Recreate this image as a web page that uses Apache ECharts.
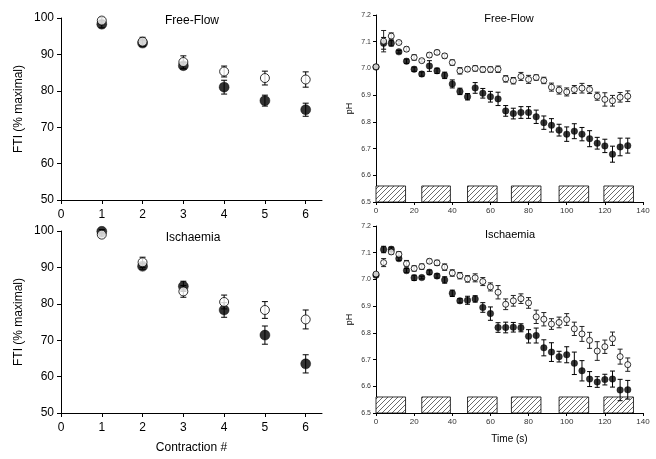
<!DOCTYPE html>
<html>
<head>
<meta charset="utf-8">
<script src="https://cdn.jsdelivr.net/npm/echarts@6/dist/echarts.min.js"></script>
<style>html,body{margin:0;padding:0;background:#fff}#c{width:656px;height:459px}</style>
</head>
<body>
<div id="c"></div>
<script>
// ---------- DATA ----------
const contractions = [1, 2, 3, 4, 5, 6];
const ffFtiFilled    = [98.3, 93.1, 86.9, 81.0, 77.3, 74.8];
const ffFtiFilledErr = [1.0, 0.8, 0.9, 1.9, 1.5, 1.8];
const ffFtiOpen      = [99.3, 93.5, 87.9, 85.3, 83.5, 83.1];
const ffFtiOpenErr   = [0.8, 1.2, 1.7, 1.5, 1.9, 2.1];
const isFtiFilled    = [99.9, 90.3, 84.8, 78.3, 71.4, 63.5];
const isFtiFilledErr = [0.5, 0.8, 1.4, 2.0, 2.5, 2.5];
const isFtiOpen      = [99.0, 91.4, 83.4, 80.5, 78.3, 75.7];
const isFtiOpenErr   = [0.6, 1.4, 1.6, 1.9, 2.3, 2.6];

const times = [0, 4, 8, 12, 16, 20, 24, 28, 32, 36, 40, 44, 48, 52, 56, 60, 64, 68, 72, 76, 80, 84, 88, 92, 96, 100, 104, 108, 112, 116, 120, 124, 128, 132];
const ffPhFilled    = [7.005, 7.094, 7.094, 7.062, 7.027, 6.997, 6.979, 7.009, 6.991, 6.974, 6.942, 6.914, 6.894, 6.927, 6.907, 6.894, 6.886, 6.841, 6.831, 6.835, 6.835, 6.819, 6.797, 6.787, 6.769, 6.754, 6.765, 6.754, 6.737, 6.720, 6.710, 6.679, 6.706, 6.711];
const ffPhFilledErr = [0.004, 0.022, 0.01, 0.005, 0.008, 0.008, 0.008, 0.02, 0.01, 0.012, 0.015, 0.012, 0.012, 0.02, 0.018, 0.02, 0.025, 0.02, 0.02, 0.022, 0.022, 0.025, 0.025, 0.025, 0.022, 0.027, 0.028, 0.025, 0.03, 0.022, 0.025, 0.03, 0.033, 0.028];
const ffPhOpen      = [7.006, 7.102, 7.121, 7.097, 7.072, 7.041, 7.029, 7.050, 7.060, 7.047, 7.022, 6.991, 6.997, 7.000, 6.996, 6.996, 6.997, 6.961, 6.954, 6.970, 6.959, 6.966, 6.955, 6.930, 6.919, 6.912, 6.921, 6.926, 6.921, 6.896, 6.884, 6.879, 6.892, 6.896];
const ffPhOpenErr   = [0.004, 0.04, 0.012, 0.005, 0.008, 0.01, 0.005, 0.008, 0.008, 0.008, 0.01, 0.012, 0.008, 0.01, 0.01, 0.01, 0.012, 0.012, 0.012, 0.015, 0.015, 0.01, 0.012, 0.015, 0.015, 0.015, 0.015, 0.018, 0.015, 0.015, 0.025, 0.02, 0.018, 0.02];
const isPhFilled    = [7.016, 7.112, 7.113, 7.078, 7.033, 7.006, 7.007, 7.027, 7.013, 6.998, 6.948, 6.920, 6.922, 6.927, 6.895, 6.872, 6.820, 6.820, 6.821, 6.819, 6.787, 6.790, 6.744, 6.728, 6.711, 6.718, 6.686, 6.658, 6.627, 6.616, 6.625, 6.627, 6.586, 6.587];
const isPhFilledErr = [0.005, 0.012, 0.008, 0.008, 0.008, 0.01, 0.005, 0.008, 0.008, 0.012, 0.012, 0.008, 0.015, 0.012, 0.018, 0.025, 0.018, 0.02, 0.018, 0.015, 0.025, 0.028, 0.03, 0.035, 0.02, 0.03, 0.042, 0.038, 0.028, 0.02, 0.02, 0.03, 0.04, 0.035];
const isPhOpen      = [7.020, 7.063, 7.103, 7.094, 7.059, 7.041, 7.048, 7.068, 7.062, 7.046, 7.024, 7.014, 7.002, 7.006, 6.992, 6.972, 6.952, 6.907, 6.920, 6.928, 6.912, 6.860, 6.851, 6.833, 6.839, 6.850, 6.815, 6.796, 6.772, 6.732, 6.748, 6.778, 6.711, 6.681];
const isPhOpenErr   = [0.005, 0.015, 0.008, 0.01, 0.012, 0.01, 0.01, 0.008, 0.01, 0.012, 0.012, 0.012, 0.012, 0.015, 0.015, 0.015, 0.025, 0.02, 0.02, 0.018, 0.02, 0.025, 0.025, 0.02, 0.02, 0.022, 0.025, 0.028, 0.03, 0.035, 0.025, 0.025, 0.028, 0.025];

const barStarts = [0, 24, 48, 71, 96, 119.5];
const barEnds   = [15.5, 39, 63.5, 86.5, 111.5, 135];
const barTop = 6.56;
const barBase = 6.5;

const ftiTicks = [50, 60, 70, 80, 90, 100];
const contractionTicks = [0, 1, 2, 3, 4, 5, 6];

// ---------- HELPERS ----------
const FONT = 'Liberation Sans, Arial, sans-serif';

function hatchPattern() {
  const c = document.createElement('canvas');
  c.width = 5; c.height = 5;
  const g = c.getContext('2d');
  g.fillStyle = '#fff'; g.fillRect(0, 0, 5, 5);
  g.strokeStyle = '#444'; g.lineWidth = 0.8;
  g.beginPath();
  g.moveTo(-1, 6); g.lineTo(6, -1);
  g.moveTo(-1, 1); g.lineTo(1, -1);
  g.moveTo(4, 6); g.lineTo(6, 4);
  g.stroke();
  return c;
}
const pattern = hatchPattern();

function zip3(x, y, e) { return x.map((v, i) => [v, y[i], e[i]]); }
function zip2(x, y) { return x.map((v, i) => [v, y[i]]); }

function errSeries(idx, x, y, e, cap, color) {
  return {
    type: 'custom', xAxisIndex: idx, yAxisIndex: idx, z: 2, silent: true,
    data: zip3(x, y, e),
    renderItem: function (params, api) {
      const xv = api.value(0), yv = api.value(1), ev = api.value(2);
      const top = api.coord([xv, yv + ev]);
      const bot = api.coord([xv, yv - ev]);
      const st = { stroke: color, lineWidth: 1 };
      return {
        type: 'group', children: [
          { type: 'line', shape: { x1: top[0], y1: top[1], x2: bot[0], y2: bot[1] }, style: st },
          { type: 'line', shape: { x1: top[0] - cap, y1: top[1], x2: top[0] + cap, y2: top[1] }, style: st },
          { type: 'line', shape: { x1: bot[0] - cap, y1: bot[1], x2: bot[0] + cap, y2: bot[1] }, style: st }
        ]
      };
    }
  };
}

function scatter(idx, x, y, filled, size) {
  return {
    type: 'scatter', xAxisIndex: idx, yAxisIndex: idx, z: filled ? 3 : 4,
    symbol: 'circle', symbolSize: size,
    data: zip2(x, y),
    itemStyle: filled ? { color: '#000', borderColor: '#000', borderWidth: 0.5 }
                      : { color: '#fff', borderColor: '#000', borderWidth: 1 },
    emphasis: { disabled: true }
  };
}

function barsSeries(idx) {
  return {
    type: 'custom', xAxisIndex: idx, yAxisIndex: idx, z: 1, silent: true,
    data: barStarts.map((s, i) => [s, barEnds[i]]),
    renderItem: function (params, api) {
      const p0 = api.coord([api.value(0), barTop]);
      const p1 = api.coord([api.value(1), barBase]);
      return {
        type: 'rect',
        shape: { x: p0[0], y: p0[1], width: p1[0] - p0[0], height: p1[1] - p0[1] },
        style: { fill: { image: pattern, repeat: 'repeat' }, stroke: '#000', lineWidth: 0.8 }
      };
    }
  };
}

const axisLine = { show: true, lineStyle: { color: '#000', width: 1 } };

function leftX(idx, showName) {
  return {
    type: 'value', gridIndex: idx, min: 0, max: 6.4, interval: 1,
    axisLine: axisLine,
    axisTick: { show: true, length: 4, lineStyle: { color: '#000' }, customValues: contractionTicks },
    axisLabel: { color: '#000', fontSize: 12, fontFamily: FONT, margin: 9, customValues: contractionTicks,
      formatter: v => (Number.isInteger(v) ? String(v) : '') },
    splitLine: { show: false },
    name: showName ? 'Contraction #' : '', nameLocation: 'middle', nameGap: 29,
    nameTextStyle: { color: '#000', fontSize: 12, fontFamily: FONT }
  };
}
function leftY(idx) {
  return {
    type: 'value', gridIndex: idx, min: 50, max: 100, interval: 10,
    axisLine: axisLine,
    axisTick: { show: true, length: 4, lineStyle: { color: '#000' } },
    axisLabel: { color: '#000', fontSize: 12, fontFamily: FONT, margin: 7 },
    splitLine: { show: false },
    name: 'FTI (% maximal)', nameLocation: 'middle', nameGap: 36, nameRotate: 90,
    nameTextStyle: { color: '#000', fontSize: 12, fontFamily: FONT }
  };
}
function rightX(idx, showName) {
  return {
    type: 'value', gridIndex: idx, min: 0, max: 140, interval: 20,
    axisLine: axisLine,
    axisTick: { show: true, length: 3, lineStyle: { color: '#000' } },
    axisLabel: { color: '#333', fontSize: 8, fontFamily: FONT, margin: 5 },
    splitLine: { show: false },
    name: showName ? 'Time (s)' : '', nameLocation: 'middle', nameGap: 21,
    nameTextStyle: { color: '#000', fontSize: 10, fontFamily: FONT }
  };
}
function rightY(idx) {
  return {
    type: 'value', gridIndex: idx, min: 6.5, max: 7.2, interval: 0.1,
    axisLine: axisLine,
    axisTick: { show: true, length: 3, lineStyle: { color: '#000' } },
    axisLabel: { color: '#333', fontSize: 7, fontFamily: FONT, margin: 5, formatter: v => v.toFixed(1) },
    splitLine: { show: false },
    name: 'pH', nameLocation: 'middle', nameGap: 22, nameRotate: 90,
    nameTextStyle: { color: '#000', fontSize: 9, fontFamily: FONT }
  };
}

const chart = echarts.init(document.getElementById('c'), null, { renderer: 'canvas' });
chart.setOption({
  animation: false,
  backgroundColor: '#fff',
  grid: [
    { left: 61, top: 18, width: 261, height: 182 },
    { left: 61, top: 231, width: 261, height: 182 },
    { left: 376, top: 15, width: 267, height: 187 },
    { left: 376, top: 226, width: 267, height: 187 }
  ],
  xAxis: [leftX(0, false), leftX(1, true), rightX(2, false), rightX(3, true)],
  yAxis: [leftY(0), leftY(1), rightY(2), rightY(3)],
  graphic: [
    { type: 'text', x: 192, y: 21, style: { text: 'Free-Flow', fill: '#000', font: '12px ' + FONT, align: 'center', verticalAlign: 'middle' } },
    { type: 'text', x: 193, y: 238, style: { text: 'Ischaemia', fill: '#000', font: '12px ' + FONT, align: 'center', verticalAlign: 'middle' } },
    { type: 'text', x: 509, y: 19, style: { text: 'Free-Flow', fill: '#000', font: '11px ' + FONT, align: 'center', verticalAlign: 'middle' } },
    { type: 'text', x: 510, y: 235, style: { text: 'Ischaemia', fill: '#000', font: '11px ' + FONT, align: 'center', verticalAlign: 'middle' } }
  ],
  series: [
    errSeries(0, contractions, ffFtiFilled, ffFtiFilledErr, 3, '#000'),
    errSeries(0, contractions, ffFtiOpen, ffFtiOpenErr, 3, '#000'),
    scatter(0, contractions, ffFtiFilled, true, 10),
    scatter(0, contractions, ffFtiOpen, false, 9),

    errSeries(1, contractions, isFtiFilled, isFtiFilledErr, 3, '#000'),
    errSeries(1, contractions, isFtiOpen, isFtiOpenErr, 3, '#000'),
    scatter(1, contractions, isFtiFilled, true, 10),
    scatter(1, contractions, isFtiOpen, false, 9),

    barsSeries(2),
    errSeries(2, times, ffPhFilled, ffPhFilledErr, 2.5, '#000'),
    errSeries(2, times, ffPhOpen, ffPhOpenErr, 2.5, '#222'),
    scatter(2, times, ffPhFilled, true, 6.5),
    scatter(2, times, ffPhOpen, false, 6),

    barsSeries(3),
    errSeries(3, times, isPhFilled, isPhFilledErr, 2.5, '#000'),
    errSeries(3, times, isPhOpen, isPhOpenErr, 2.5, '#222'),
    scatter(3, times, isPhFilled, true, 6.5),
    scatter(3, times, isPhOpen, false, 6)
  ]
});
</script>
</body>
</html>
